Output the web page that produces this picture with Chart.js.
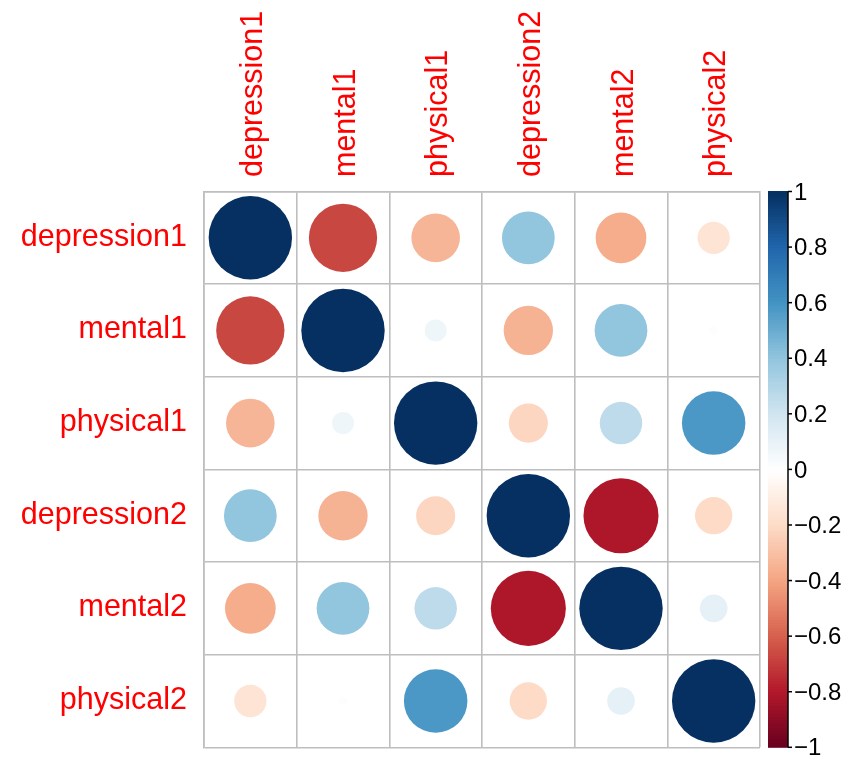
<!DOCTYPE html>
<html>
<head>
<meta charset="utf-8">
<script src="https://cdn.jsdelivr.net/npm/chart.js@4/dist/chart.umd.min.js"></script>
<style>
html,body{margin:0;padding:0;background:#fff;}
#c{display:block;}
</style>
</head>
<body>
<canvas id="c" width="841" height="761"></canvas>
<script>
// ---- data ----
const variables = ['depression1','mental1','physical1','depression2','mental2','physical2'];
const depression1 = [1.00, -0.67, -0.34, 0.40, -0.37, -0.15];
const mental1     = [-0.67, 1.00, 0.07, -0.35, 0.40, -0.01];
const physical1   = [-0.34, 0.07, 1.00, -0.22, 0.26, 0.58];
const depression2 = [0.40, -0.35, -0.22, 1.00, -0.81, -0.20];
const mental2     = [-0.37, 0.40, 0.26, -0.81, 1.00, 0.11];
const physical2   = [-0.15, -0.01, 0.58, -0.20, 0.11, 1.00];
const corrRows = [depression1, mental1, physical1, depression2, mental2, physical2];
const colorbarTicks = [1, 0.8, 0.6, 0.4, 0.2, 0, -0.2, -0.4, -0.6, -0.8, -1];

// ---- palette (RdBu, corrplot style) ----
const stops = ['#67001F','#B2182B','#D6604D','#F4A582','#FDDBC7','#FFFFFF','#D1E5F0','#92C5DE','#4393C3','#2166AC','#053061'];
function hex2rgb(h){return [parseInt(h.substr(1,2),16),parseInt(h.substr(3,2),16),parseInt(h.substr(5,2),16)];}
const stopRGB = stops.map(hex2rgb);
function colorFor(v){
  const t = (Math.max(-1, Math.min(1, v)) + 1) / 2 * (stops.length - 1);
  const i = Math.min(Math.floor(t), stops.length - 2);
  const f = t - i;
  const a = stopRGB[i], b = stopRGB[i+1];
  const c = a.map((x,k)=>Math.round(x + (b[k]-x)*f));
  return 'rgb(' + c.join(',') + ')';
}

// ---- build points ----
const points = [];
corrRows.forEach((row, r) => {
  row.forEach((v, c) => {
    points.push({x: variables[c], y: variables[r], v: v});
  });
});
function valAt(ctx){
  const i = ctx.dataIndex;
  return (i !== undefined && points[i]) ? points[i].v : 0;
}
function radiusFor(ctx){
  const a = ctx.chart.chartArea;
  if (!a || !isFinite(a.right - a.left)) return 0;
  const cell = (a.right - a.left) / variables.length;
  return 0.45 * cell * Math.sqrt(Math.abs(valAt(ctx)));
}

const FONT = '"Liberation Sans", Arial, Helvetica, sans-serif';

const labelPlugin = {
  id: 'corrLabels',
  afterDraw(chart) {
    const ctx = chart.ctx;
    const xs = chart.scales.x, ys = chart.scales.y, cb = chart.scales.cb;
    const area = chart.chartArea;
    ctx.save();
    // row labels
    ctx.fillStyle = '#FF0000';
    ctx.font = '30.5px ' + FONT;
    ctx.textAlign = 'right';
    ctx.textBaseline = 'alphabetic';
    variables.forEach((lab, i) => {
      const y = ys.getPixelForValue(i);
      ctx.fillText(lab, area.left - 17, y + 8);
    });
    // column labels (rotated)
    ctx.textAlign = 'left';
    variables.forEach((lab, i) => {
      const x = xs.getPixelForValue(i);
      ctx.save();
      ctx.translate(x + 11.5, area.top - 14.5);
      ctx.rotate(-Math.PI / 2);
      ctx.fillText(lab, 0, 0);
      ctx.restore();
    });
    // colour legend
    const bx0 = area.right + 8, bx1 = area.right + 28;
    const steps = 200;
    for (let k = 0; k < steps; k++) {
      const v0 = -1 + 2 * k / steps, v1 = -1 + 2 * (k + 1) / steps;
      const yA = cb.getPixelForValue(v0), yB = cb.getPixelForValue(v1);
      ctx.fillStyle = colorFor((v0 + v1) / 2);
      ctx.fillRect(bx0, Math.min(yA, yB) - 0.5, bx1 - bx0, Math.abs(yB - yA) + 1);
    }
    ctx.strokeStyle = '#000';
    ctx.lineWidth = 1.5;
    ctx.beginPath();
    ctx.moveTo(bx1, cb.getPixelForValue(1));
    ctx.lineTo(bx1, cb.getPixelForValue(-1));
    ctx.stroke();
    ctx.fillStyle = '#000';
    ctx.font = '24px ' + FONT;
    ctx.textAlign = 'left';
    ctx.textBaseline = 'middle';
    colorbarTicks.forEach(t => {
      const y = cb.getPixelForValue(t);
      ctx.beginPath();
      ctx.moveTo(bx1, y);
      ctx.lineTo(bx1 + 4, y);
      ctx.stroke();
      const txt = (t < 0 ? '\u2212' : '') + String(Math.abs(t));
      ctx.fillText(txt, bx1 + 6, y + 1.5);
    });
    ctx.restore();
  }
};

new Chart(document.getElementById('c'), {
  type: 'scatter',
  data: {
    datasets: [{
      data: points,
      showLine: false,
      pointBackgroundColor: ctx => colorFor(valAt(ctx)),
      pointBorderWidth: 0,
      pointHoverBorderWidth: 0,
      pointRadius: radiusFor,
      pointHoverRadius: radiusFor
    }]
  },
  options: {
    responsive: false,
    animation: false,
    events: [],
    layout: { autoPadding: false, padding: { left: 204, top: 191.5, right: 81, bottom: 13.7 } },
    plugins: { legend: { display: false }, tooltip: { enabled: false } },
    scales: {
      x: {
        type: 'category', labels: variables, position: 'top', offset: true,
        grid: { offset: true, color: '#BEBEBE', lineWidth: 1.6, drawTicks: false },
        border: { display: true, color: '#BEBEBE', width: 1.6 },
        ticks: { display: false },
        afterFit: s => { s.height = 0; }
      },
      y: {
        type: 'category', labels: variables, position: 'left', offset: true,
        grid: { offset: true, color: '#BEBEBE', lineWidth: 1.6, drawTicks: false },
        border: { display: true, color: '#BEBEBE', width: 1.6 },
        ticks: { display: false },
        afterFit: s => { s.width = 0; }
      },
      cb: {
        type: 'linear', position: 'right', min: -1, max: 1, display: false
      }
    }
  },
  plugins: [labelPlugin]
});
</script>
</body>
</html>
